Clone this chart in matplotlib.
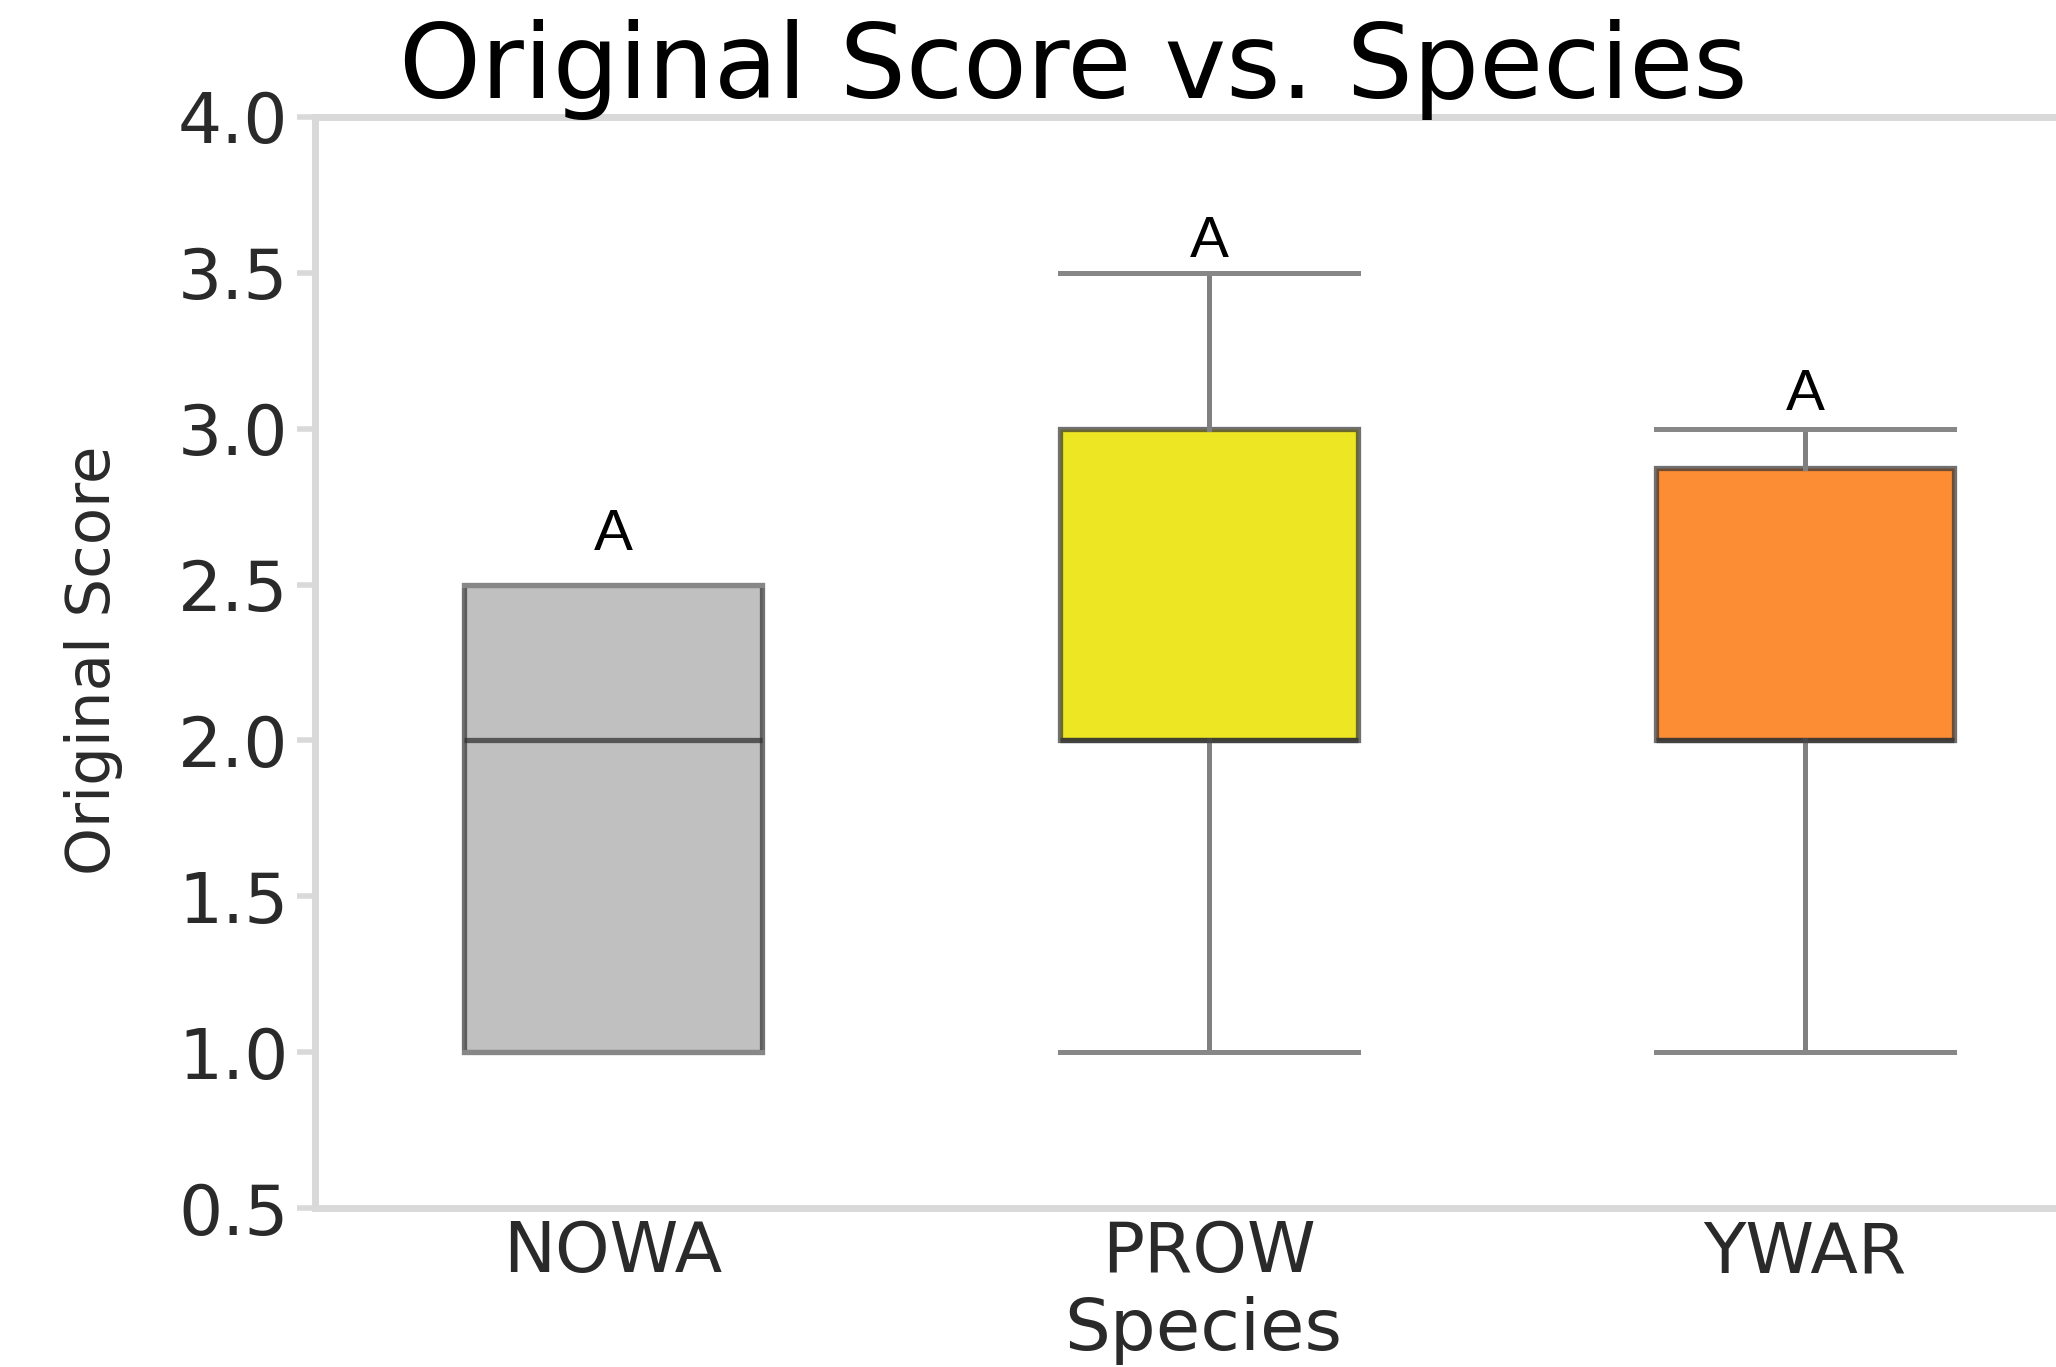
import matplotlib
matplotlib.use("Agg")
import matplotlib.pyplot as plt

# ---- data ----
species = ["NOWA", "PROW", "YWAR"]
whisker_low = [1.0, 1.0, 1.0]
q1 = [1.0, 2.0, 2.0]
median = [2.0, 2.0, 2.0]
q3 = [2.5, 3.0, 2.875]
whisker_high = [2.5, 3.5, 3.0]
group_letters = ["A", "A", "A"]
letter_y = [2.61, 3.55, 3.06]
box_colors = ["#c0c0c0", "#ede623", "#fd8d35"]
yticks = [0.5, 1.0, 1.5, 2.0, 2.5, 3.0, 3.5, 4.0]
ytick_labels = ["0.5", "1.0", "1.5", "2.0", "2.5", "3.0", "3.5", "4.0"]

W, H = 2056, 1367
fig = plt.figure(figsize=(W / 100, H / 100), dpi=100)
fig.patch.set_facecolor("white")

left = 315 / W
bottom = 1 - 1208 / H
width = 1788 / W
height = (1208 - 117) / H
ax = fig.add_axes([left, bottom, width, height])

stats = []
for i, name in enumerate(species):
    stats.append({
        "label": name,
        "whislo": whisker_low[i],
        "q1": q1[i],
        "med": median[i],
        "q3": q3[i],
        "whishi": whisker_high[i],
        "fliers": [],
    })

edge = (0.2, 0.2, 0.2, 0.7)
bp = ax.bxp(stats, positions=range(len(species)), widths=0.5,
            patch_artist=True, showfliers=False,
            boxprops=dict(edgecolor=edge, linewidth=3.8),
            whiskerprops=dict(color="#808080", linewidth=3.6),
            capprops=dict(color="#878787", linewidth=3.6),
            capwidths=0.5,
            medianprops=dict(color=(0.2, 0.2, 0.2, 0.75), linewidth=3.8))
for patch, c in zip(bp["boxes"], box_colors):
    patch.set_facecolor(c)

for i, (lt, yv) in enumerate(zip(group_letters, letter_y)):
    ax.text(i, yv, lt, ha="center", va="baseline", fontsize=42,
            color="black", family="Liberation Sans")

ax.set_xlim(-0.5, 2.5)
ax.set_ylim(0.5, 4.0)
ax.set_yticks(yticks)
ax.set_yticklabels(ytick_labels)
ax.set_xticks(range(len(species)))
ax.set_xticklabels(species)

spine_c = "#d9d9d9"
for s in ["left", "bottom", "top"]:
    ax.spines[s].set_color(spine_c)
    ax.spines[s].set_linewidth(5)
ax.spines["right"].set_visible(False)

ax.tick_params(axis="y", length=13, width=4, color=spine_c, pad=6,
               labelsize=50, labelcolor="#2a2a2a")
ax.tick_params(axis="x", length=0, pad=8, labelsize=50, labelcolor="#2a2a2a")

fig.text(94 / W, 1 - 660 / H, "Original Score", rotation=90, ha="center",
         va="center", fontsize=44, color="#2a2a2a")
fig.text(1203 / W, 2 / H, "Species", ha="center", va="bottom",
         fontsize=52, color="#2a2a2a")
fig.text(1073 / W, 1 - 98 / H, "Original Score vs. Species", ha="center",
         va="baseline", fontsize=75, color="black")

fig.savefig("out.png", dpi=100, facecolor="white")
